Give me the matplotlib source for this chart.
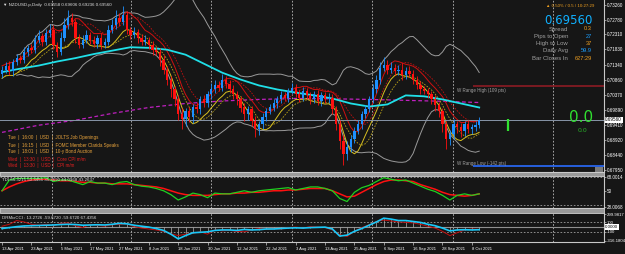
import numpy as np
import pandas as pd
import matplotlib
matplotlib.use('Agg')
from matplotlib import pyplot as plt
from matplotlib.patches import Rectangle
from matplotlib import font_manager

W, H = 625, 254
BG = '#161616'

# daily closes NZDUSD, 13 Apr 2021 .. 12 Oct 2021
closes = [0.7118, 0.7131, 0.7112, 0.7144, 0.7156, 0.7150, 0.7176, 0.7188, 0.7182, 0.7214,
          0.7227, 0.7208, 0.7236, 0.7246, 0.7198, 0.7176, 0.7220, 0.7262, 0.7284, 0.7272,
          0.7220, 0.7198, 0.7214, 0.7230, 0.7214, 0.7201, 0.7220, 0.7198, 0.7208, 0.7246,
          0.7262, 0.7284, 0.7272, 0.7294, 0.7246, 0.7230, 0.7240, 0.7220, 0.7208, 0.7214,
          0.7198, 0.7182, 0.7176, 0.7150, 0.7118, 0.7086, 0.7054, 0.7022, 0.6974, 0.6958,
          0.6984, 0.6964, 0.6996, 0.6990, 0.7022, 0.7009, 0.7038, 0.7054, 0.7070, 0.7060,
          0.7086, 0.7073, 0.7054, 0.7038, 0.7022, 0.6996, 0.6974, 0.6990, 0.6952, 0.6926,
          0.6942, 0.6964, 0.6984, 0.6996, 0.7009, 0.7022, 0.7035, 0.7028, 0.7048, 0.7060,
          0.7041, 0.7028, 0.7048, 0.7035, 0.7022, 0.7038, 0.7016, 0.7035, 0.7022, 0.7028,
          0.6990, 0.6942, 0.6888, 0.6846, 0.6868, 0.6894, 0.6920, 0.6942, 0.6974, 0.6990,
          0.7022, 0.7054, 0.7086, 0.7124, 0.7134, 0.7118, 0.7124, 0.7112, 0.7118, 0.7099,
          0.7112, 0.7105, 0.7086, 0.7067, 0.7054, 0.7048, 0.7038, 0.7022, 0.7003, 0.6984,
          0.6942, 0.6894, 0.6910, 0.6942, 0.6932, 0.6920, 0.6942, 0.6926, 0.6932, 0.6939,
          0.6956]
first_open = 0.7105
# wick lengths in pips
up_wick = [12, 10, 15, 8, 12, 10, 14, 10, 12, 15, 18, 10, 12, 20, 15, 10, 18, 22, 25, 15,
           10, 12, 15, 14, 10, 12, 10, 15, 12, 14, 20, 25, 15, 28, 12, 10, 14, 10, 12, 15,
           10, 12, 10, 12, 15, 10, 12, 10, 15, 20, 12, 15, 10, 18, 12, 15, 10, 20, 15, 10,
           18, 12, 10, 15, 10, 12, 15, 10, 12, 18, 10, 15, 12, 10, 14, 12, 15, 10, 12, 14,
           12, 10, 15, 12, 10, 12, 15, 10, 12, 14, 10, 12, 15, 18, 20, 15, 12, 14, 10, 15,
           12, 18, 15, 20, 25, 15, 18, 12, 15, 20, 14, 18, 12, 10, 15, 12, 10, 12, 15, 10,
           12, 10, 15, 18, 12, 15, 10, 14, 12, 15, 10]
dn_wick = [15, 12, 10, 14, 10, 12, 10, 15, 12, 10, 12, 15, 10, 12, 15, 18, 12, 10, 12, 14,
           15, 12, 10, 12, 15, 10, 12, 14, 10, 12, 10, 12, 15, 10, 14, 12, 10, 15, 12, 10,
           15, 18, 12, 20, 15, 18, 25, 20, 18, 30, 20, 15, 18, 12, 15, 10, 12, 14, 10, 12,
           10, 15, 12, 14, 18, 15, 20, 18, 15, 25, 20, 15, 12, 10, 12, 14, 10, 12, 15, 10,
           12, 14, 10, 12, 15, 10, 12, 14, 12, 10, 15, 20, 25, 35, 20, 15, 12, 10, 14, 12,
           10, 12, 10, 14, 12, 15, 12, 10, 12, 14, 10, 12, 15, 12, 14, 10, 12, 15, 18, 20,
           25, 30, 20, 15, 18, 20, 15, 12, 14, 12, 10]

# long moving averages read every 5 / 10 bars
cyan_ma = [0.7110, 0.7121, 0.7131, 0.7144, 0.7155, 0.7168, 0.7179, 0.7190, 0.7188, 0.7182,
           0.7166, 0.7137, 0.7108, 0.7086, 0.7067, 0.7054, 0.7044, 0.7035, 0.7025, 0.7009,
           0.6999, 0.7006, 0.7035, 0.7032, 0.7022, 0.7009, 0.6996]
magenta_ma = [0.6916, 0.6939, 0.6955, 0.6977, 0.6996, 0.7009, 0.7017, 0.7022, 0.7025, 0.7024,
              0.7022, 0.7019, 0.7016, 0.7012]

# TDI (every 2 bars)
tdi_green = [50, 64, 66, 66, 66, 66, 67, 62, 64, 64, 61, 58, 62, 60, 60, 58, 61, 62, 58, 56,
             55, 53, 50, 45, 38, 42, 47, 45, 41, 47, 46, 46, 48, 50, 48, 50, 51, 52, 53, 54,
             51, 53, 55, 55, 53, 50, 40, 36, 48, 54, 57, 62, 67, 65, 63, 64, 60, 56, 52, 49,
             44, 38, 44, 46, 44, 46]
tdi_red = [50, 55, 59, 62, 64, 65, 65, 64, 63, 63, 62, 61, 61, 60, 60, 59, 59, 59, 58, 57,
           56, 55, 53, 50, 47, 45, 44, 44, 44, 45, 46, 46, 47, 47, 48, 48, 49, 50, 50, 51,
           51, 52, 53, 53, 53, 50, 46, 42, 43, 48, 53, 58, 62, 64, 64, 63, 62, 58, 55, 52,
           48, 45, 44, 43, 44, 46]

# CCI (every 2 bars)
cci_main = [-30, -10, 10, 25, 30, 35, 40, 45, 55, 60, 55, 40, 45, 50, 45, 60, 80, 70, 40, 20,
            0, -30, -70, -150, -250, -180, -120, -110, -100, -70, -60, -60, -70, -50, -60, -55,
            -40, -40, -30, -20, -15, -20, -10, -5, 0, -40, -190, -170, -90, -30, 40, 110, 190,
            170, 140, 140, 120, 100, 60, 30, -20, -80, -60, -55, -60, -55]
cci_fast = [20, 60, 140, 110, 60, 40, 60, 30, 80, 90, 30, -10, 60, 40, 20, 50, 60, 70, 10, -20,
            -40, -60, -90, -140, -180, -150, -130, -100, -150, -60, -80, -70, -90, -100, -60,
            -30, -50, -30, -40, -10, 0, -20, 10, 0, -10, -60, -160, -200, -90, -10, 50, 120,
            150, 130, 110, 100, 90, 60, 20, -20, -90, -180, -120, -60, -40, -50]

price_ticks = [0.73260, 0.72780, 0.72310, 0.71830, 0.71340, 0.70860, 0.70370, 0.69890,
               0.69410, 0.68920, 0.68440, 0.67950]
date_labels = ['13 Apr 2021', '23 Apr 2021', '5 May 2021', '17 May 2021', '27 May 2021',
               '8 Jun 2021', '18 Jun 2021', '30 Jun 2021', '12 Jul 2021', '22 Jul 2021',
               '3 Aug 2021', '13 Aug 2021', '25 Aug 2021', '6 Sep 2021', '16 Sep 2021',
               '28 Sep 2021', '8 Oct 2021']
grid_bars = [13.6, 35.2, 57.0, 79.0, 100.8, 122.9, 150.2]
news = [('Tue', '16:00', 'JOLTS Job Openings', '#e8a33c'),
        ('Tue', '16:15', 'FOMC Member Clarida Speaks', '#e8a33c'),
        ('Tue', '18:01', '10-y Bond Auction', '#e8a33c'),
        ('Wed', '13:30', 'Core CPI m/m', '#e02020'),
        ('Wed', '13:30', 'CPI m/m', '#e02020')]
info_rows = [('Spread', '0.3', '#f0a020'), ('Pips to Open', '27', '#1ea0ff'),
             ('High to Low', '37', '#f0a020'), ('Daily Avg', '59.9', '#1ea0ff'),
             ('Bar Closes In', '627:29', '#f0a020')]
last_price = 0.69560
range_high = 0.70636
range_low = 0.68080

names = {f.name for f in font_manager.fontManager.ttflist}
if 'Liberation Sans Narrow' in names:
    SF, k = 'Liberation Sans Narrow', 1.0
else:
    SF, k = 'Liberation Sans', 0.82
SMALL = dict(family=[SF, 'DejaVu Sans'])

c = np.array(closes)
o = np.concatenate([[first_open], c[:-1]])
hi = np.maximum(o, c) + np.array(up_wick) * 1e-4
lo = np.minimum(o, c) - np.array(dn_wick) * 1e-4
n = len(c)
x = np.arange(n)

cs = pd.Series(c)
mid = cs.rolling(20, min_periods=5).mean()
sd = cs.rolling(20, min_periods=5).std(ddof=0)
hs, ls = pd.Series(hi), pd.Series(lo)


def frac(x0, y0, x1, y1):
    return [x0 / W, 1 - y1 / H, (x1 - x0) / W, (y1 - y0) / H]


fig = plt.figure(figsize=(6.25, 2.54), dpi=100, facecolor=BG)
ax = fig.add_axes(frac(0, 0, 604, 172))
ax2 = fig.add_axes(frac(0, 176, 604, 208))
ax3 = fig.add_axes(frac(0, 213, 604, 242))

for a in (ax, ax2, ax3):
    a.set_facecolor(BG)
    a.set_xlim(-0.55, 164)
    for s in a.spines.values():
        s.set_color('#c8c8c8')
        s.set_linewidth(0.8)
    a.spines['left'].set_visible(False)
    a.spines['top'].set_visible(False)
    a.yaxis.tick_right()
    a.tick_params(axis='y', colors='#c8c8c8', labelcolor='white', labelsize=4.0 * k,
                  length=1.5, width=0.5, pad=0.8)
    a.tick_params(axis='x', bottom=False, labelbottom=False)
    for g in grid_bars:
        a.axvline(g, color='#bdbdbd', lw=0.6, ls=(0, (2, 2)), zorder=0)

# separators between panels
for y0, y1 in [(172, 176), (208, 213)]:
    fig.patches.append(Rectangle((0, 1 - y1 / H), 604 / W, (y1 - y0) / H, transform=fig.transFigure,
                                 facecolor='#9a9a9a', edgecolor='#d0d0d0', lw=0.6))

# ---- main price panel
ax.set_ylim(0.67884, 0.7342)
ax.set_yticks(price_ticks)
ax.set_yticklabels(['%.5f' % v for v in price_ticks], **SMALL)

ax.plot(np.arange(0, n, 10), magenta_ma, color='#c020c0', lw=0.9, ls=(0, (3, 2)))
ax.plot(x, mid + 2 * sd, color='#9a9a9a', lw=0.7)
ax.plot(x, mid - 2 * sd, color='#9a9a9a', lw=0.7)
ax.plot(x, hs.rolling(5, min_periods=1).mean(), color='#d01010', lw=0.7)
ax.plot(x, hs.rolling(8, min_periods=1).mean(), color='#c01010', lw=0.6, ls=(0, (2, 1.5)))
ax.plot(x, ls.rolling(5, min_periods=1).mean(), color='#d8c020', lw=0.7)
ax.plot(x, ls.rolling(8, min_periods=1).mean(), color='#b8a018', lw=0.6, ls=(0, (2, 1.5)))
ax.plot(np.arange(0, n, 5), cyan_ma, color='#20e0e8', lw=1.3)

col = np.where(c >= o, '#1e90ff', '#ff1010')
ax.vlines(x, lo, hi, colors=col, lw=0.6, zorder=3)
ax.bar(x, np.maximum(np.abs(c - o), 0.00008), bottom=np.minimum(o, c), width=0.62,
       color=col, linewidth=0, zorder=4)

ax.axhline(last_price, color='#8895a8', lw=0.7, zorder=2)
ax.hlines(range_high, 128.3, 164, color='#8c1c24', lw=1.2)
ax.hlines(range_low, 128.3, 164, color='#2a6cff', lw=1.2)
ax.text(124, range_high - 0.0004, 'W Range High (109 pts)', color='#a0a0a0', fontsize=4.0 * k,
        va='top', **SMALL)
ax.text(124, range_low + 0.0001, 'W Range Low (-142 pts)', color='#a0a0a0', fontsize=4.0 * k,
        va='bottom', **SMALL)
ax.text(1.002, (last_price - 0.67884) / (0.7342 - 0.67884), '%.5f' % last_price,
        transform=ax.transAxes, fontsize=4.0 * k, color='black', va='center', ha='left',
        bbox=dict(facecolor='white', edgecolor='none', pad=0.5), **SMALL)

ax.text(3 / 604, 1 - 5 / 172, '\u25bc NZDUSD.p,Daily  0.69558 0.69606 0.69236 0.69560',
        transform=ax.transAxes, color='#e0e0e0', fontsize=3.8 * k, va='center', **SMALL)
for j, (d, t, ev, cl) in enumerate(news):
    ax.text(8 / 604, 1 - (138 + 7 * j) / 172, '%s  |  %s  |  USD  |  %s' % (d, t, ev),
            transform=ax.transAxes, color=cl, fontsize=4.0 * k, va='center', **SMALL)

ax.text(594 / 604, 1 - 6 / 172, '\u25b2 0.50% / 0.5 / 10:27:29', transform=ax.transAxes,
        color='#f0a020', fontsize=3.8 * k, ha='right', va='center', **SMALL)
ax.text(593 / 604, 1 - 20 / 172, '%.5f' % last_price, transform=ax.transAxes,
        color='#10b0ff', fontsize=8.5, ha='right', va='center')
for j, (lab, val, cl) in enumerate(info_rows):
    yy = 1 - (29 + 7.3 * j) / 172
    ax.text(568 / 604, yy, lab, transform=ax.transAxes, color='#a0a0a0', fontsize=5.3 * k,
            ha='right', va='center', **SMALL)
    ax.text(592 / 604, yy, val, transform=ax.transAxes, color=cl, fontsize=5.0 * k,
            ha='right', va='center', **SMALL)

ax.text(581 / 604, 1 - 117 / 172, '0.0', transform=ax.transAxes, color='#30e030',
        fontsize=11, ha='center', va='center')
ax.text(582 / 604, 1 - 131 / 172, '0.0', transform=ax.transAxes, color='#28b028',
        fontsize=4.5, ha='center', va='center')
ax.vlines(137.9, 0.6920, 0.6958, color='#30e030', lw=1.6)
ax.add_patch(Rectangle((595 / 604, 0), 8 / 604, 5 / 172, transform=ax.transAxes,
                       facecolor='#7a7a7a', edgecolor='none'))

# ---- TDI panel
ax2.set_ylim(27.6, 69.2)
ax2.set_yticks([68.0014, 50, 28.7])
ax2.set_yticklabels(['68.0014', '50', '28.0068'], **SMALL)
for lv in (68, 32):
    ax2.axhline(lv, color='#a0a0a0', lw=0.6, ls=(0, (2, 2)))
xs2 = np.arange(0, n, 2)
ax2.plot(xs2, tdi_red, color='#ff1010', lw=1.1)
ax2.plot(xs2, tdi_green, color='#20d020', lw=0.9)
ax2.text(2 / 604, 0.88, 'TDI 65.3215 50.3456 35.3690 44.0968 43.2637', transform=ax2.transAxes,
         color='#e0e0e0', fontsize=3.8 * k, va='center', **SMALL)

# ---- CCI panel
ax3.set_ylim(-316.18, 299.98)
ax3.set_yticks([275, 100, -100, -290])
ax3.set_yticklabels(['299.9817', '100', '-100', '-316.1804'], **SMALL)
ax3.tick_params(axis='y', labelsize=3.7 * k, pad=0.5)
ax3.axhline(0, color='#909090', lw=0.8)
for lv in (100, -100):
    ax3.axhline(lv, color='#a0a0a0', lw=0.6, ls=(0, (2, 2)))
ax3.vlines(xs2, 0, cci_main, colors='#b0b0b0', lw=0.5)
ax3.plot(xs2, cci_fast, color='#c01010', lw=0.7)
ax3.plot(xs2, cci_main, color='#18c8f8', lw=1.2)
ax3.text(2 / 604, 0.84, 'DRMixCCI : 13.2726 -59.6720 -59.6720 67.4356', transform=ax3.transAxes,
         color='#e0e0e0', fontsize=3.8 * k, va='center', **SMALL)
ax3.text(1.002, 316.18 / (299.98 + 316.18), '0.0000', transform=ax3.transAxes, fontsize=3.8 * k,
         color='black', va='center', ha='left',
         bbox=dict(facecolor='white', edgecolor='none', pad=0.5), **SMALL)

ax3.set_xticks(np.arange(0, n, 8))
ax3.set_xticklabels(date_labels, ha='left', **SMALL)
ax3.tick_params(axis='x', bottom=True, labelbottom=True, colors='#c8c8c8', labelcolor='white',
                labelsize=3.6 * k, length=2, width=0.5, pad=1.5)

fig.savefig('out.png', dpi=100, facecolor=BG)
